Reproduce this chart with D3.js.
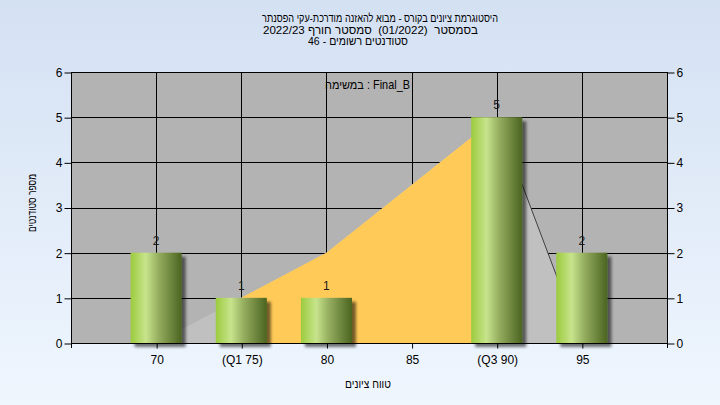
<!DOCTYPE html>
<html><head><meta charset="utf-8">
<script src="https://cdn.jsdelivr.net/npm/d3@7"></script>
<style>
html,body{margin:0;padding:0;}
body{width:720px;height:405px;overflow:hidden;}
text{font-family:"Liberation Sans",Arial,sans-serif;}
</style></head>
<body>
<svg id="chart" width="720" height="405"></svg>
<script>
// ---- data (strings in logical reading order, Hebrew read right-to-left) ----
const titleLine1 = "היסטוגרמת ציונים בקורס - מבוא להאזנה מודרכת-עקי הפסנתר";
const titleLine2 = "בסמסטר  (01/2022)  סמסטר חורף 2022/23";
const titleLine3 = "סטודנטים רשומים - 46";
const legendLabel = "Final_B : במשימה";
const xAxisTitle = "טווח ציונים";
const yAxisTitle = "מספר סטודנטים";
const grades = [70, 75, 80, 85, 90, 95];
const tickLabels = ["70", "(Q1 75)", "80", "85", "(Q3 90)", "95"];
const counts = [2, 1, 1, 0, 5, 2];
const curveX = [70, 75, 80, 90, 95];
const curveY = [0, 1, 2, 5, 0];
const q1 = 75, q3 = 90;
const xDomain = [65, 100];
const yTicks = [0, 1, 2, 3, 4, 5, 6];

// ---- layout ----
const svg = d3.select("#chart");
const W = 720, H = 405;
const L = 71, R = 667, T = 72, B = 343;

const defs = svg.append("defs");
const bg = defs.append("linearGradient").attr("id","bg").attr("x1",0).attr("y1",0).attr("x2",0).attr("y2",1);
bg.append("stop").attr("offset","0%").attr("stop-color","#d4e1f3");
bg.append("stop").attr("offset","100%").attr("stop-color","#eff6fe");
const bar = defs.append("linearGradient").attr("id","bar").attr("x1",0).attr("y1",0).attr("x2",1).attr("y2",0);
[["0%","#9ccb3e"],["30%","#c7e48c"],["55%","#94ad5f"],["100%","#4b6420"]].forEach(s=>
  bar.append("stop").attr("offset",s[0]).attr("stop-color",s[1]));
const sh = defs.append("filter").attr("id","shadow").attr("x","-20%").attr("y","-20%").attr("width","150%").attr("height","150%");
sh.append("feGaussianBlur").attr("in","SourceAlpha").attr("stdDeviation",1.8).attr("result","b");
sh.append("feOffset").attr("in","b").attr("dx",4).attr("dy",4).attr("result","o");
sh.append("feComponentTransfer").attr("in","o").attr("result","o2")
  .append("feFuncA").attr("type","linear").attr("slope",0.55);
const mg = sh.append("feMerge");
mg.append("feMergeNode").attr("in","o2");
mg.append("feMergeNode").attr("in","SourceGraphic");

svg.append("rect").attr("width",W).attr("height",H).attr("fill","url(#bg)");

const x = d3.scaleLinear().domain(xDomain).range([L, R]);
const y = d3.scaleLinear().domain([0, 6]).range([B, T]);

svg.append("rect").attr("x",L).attr("y",T).attr("width",R-L).attr("height",B-T).attr("fill","#b3b3b3");

const g = svg.append("g");
g.selectAll("line.h").data(yTicks).join("line")
  .attr("x1",L).attr("x2",R).attr("y1",d=>Math.round(y(d))+0.5).attr("y2",d=>Math.round(y(d))+0.5)
  .attr("stroke","#000").attr("stroke-width",1);
g.selectAll("line.v").data(grades).join("line")
  .attr("y1",T).attr("y2",B).attr("x1",d=>Math.round(x(d))+0.5).attr("x2",d=>Math.round(x(d))+0.5)
  .attr("stroke","#000").attr("stroke-width",1);

const pts = curveX.map((d,i)=>[d, curveY[i]]);
const area = d3.area().x(d=>x(d[0])).y0(y(0)).y1(d=>y(d[1]));
defs.append("clipPath").attr("id","iqr").append("rect")
  .attr("x",x(q1)).attr("y",T).attr("width",x(q3)-x(q1)).attr("height",B-T);
svg.append("path").datum(pts).attr("d",area).attr("fill","#c0c0c0");
svg.append("path").datum(pts).attr("d",area).attr("fill","#ffca58").attr("clip-path","url(#iqr)");
const tail = pts.filter(d=>d[0]>=q3);
svg.append("path").datum(tail).attr("d",d3.line().x(d=>x(d[0])).y(d=>y(d[1])))
  .attr("fill","none").attr("stroke","#404040").attr("stroke-width",1);

const bw = x(1.5) - x(0);
const barData = grades.map((d,i)=>({g:d,c:counts[i]})).filter(d=>d.c>0);
svg.append("g").selectAll("rect").data(barData).join("rect")
  .attr("x",d=>x(d.g)-bw).attr("width",2*bw)
  .attr("y",d=>y(d.c)).attr("height",d=>y(0)-y(d.c))
  .attr("fill","url(#bar)").attr("filter","url(#shadow)");

svg.append("line").attr("x1",L+0.5).attr("x2",L+0.5).attr("y1",T).attr("y2",B+5).attr("stroke","#000");
svg.append("line").attr("x1",R+0.5).attr("x2",R+0.5).attr("y1",T).attr("y2",B+5).attr("stroke","#000");
svg.append("line").attr("x1",L).attr("x2",R+1).attr("y1",B+0.5).attr("y2",B+0.5).attr("stroke","#000");

const yl = svg.append("g").attr("transform",`translate(${L+0.5},0.5)`)
  .call(d3.axisLeft(y).tickValues(yTicks).tickSize(7).tickPadding(2).tickFormat(d3.format("d")));
const yr = svg.append("g").attr("transform",`translate(${R+0.5},0.5)`)
  .call(d3.axisRight(y).tickValues(yTicks).tickSize(7).tickPadding(2).tickFormat(d3.format("d")));
const xb = svg.append("g").attr("transform",`translate(0.5,${B+0.5})`)
  .call(d3.axisBottom(x).tickValues(grades).tickSize(5).tickPadding(7).tickFormat((d,i)=>tickLabels[i]));
[yl,yr,xb].forEach(a=>{
  a.select(".domain").remove();
  a.selectAll("text").attr("font-size",12).attr("fill","#000").attr("font-family","Liberation Sans, Arial, sans-serif");
  a.selectAll("line").attr("stroke","#000");
});

svg.append("g").selectAll("text").data(barData).join("text")
  .attr("x",d=>x(d.g)).attr("y",d=>y(d.c)-8).attr("text-anchor","middle")
  .attr("font-size",12).attr("fill","#1a1a1a").text(d=>d.c);

// right-to-left line layout: each word its own text node, first word at the right
function rtlLine(parent, str, cx, yb, size, targetW) {
  const grp = parent.append("g");
  const inner = grp.append("g");
  const gap = size * 0.28;
  const words = str.split(" ");
  const items = [];
  words.forEach((w, i) => {
    if (i > 0) items.push({gap});
    if (w === "") return;
    const t = inner.append("text").attr("y", 0).attr("font-size", size).attr("fill", "#000").text(w);
    items.push({t, w: t.node().getComputedTextLength()});
  });
  let total = items.reduce((s, it) => s + (it.gap || it.w), 0);
  let cur = total;
  items.forEach(it => {
    if (it.gap) { cur -= it.gap; return; }
    cur -= it.w;
    it.t.attr("x", cur);
  });
  const sx = targetW ? targetW / total : 1;
  const wOut = total * sx;
  grp.attr("transform", `translate(${cx - wOut/2},${yb})`);
  inner.attr("transform", `scale(${sx},1)`);
  return grp;
}
rtlLine(svg, titleLine1, 380, 22, 11.5, 236);
rtlLine(svg, titleLine2, 370.5, 33.5, 11.5, 215);
rtlLine(svg, titleLine3, 358, 45, 11.5, 100);
rtlLine(svg, legendLabel, 367.5, 89, 12, 85);
rtlLine(svg, xAxisTitle, 368, 388, 11.5, 46);
const yg = svg.append("g").attr("transform","translate(36,203) rotate(-90)");
rtlLine(yg, yAxisTitle, 0, 0, 11.5, 58);
</script>
</body></html>
